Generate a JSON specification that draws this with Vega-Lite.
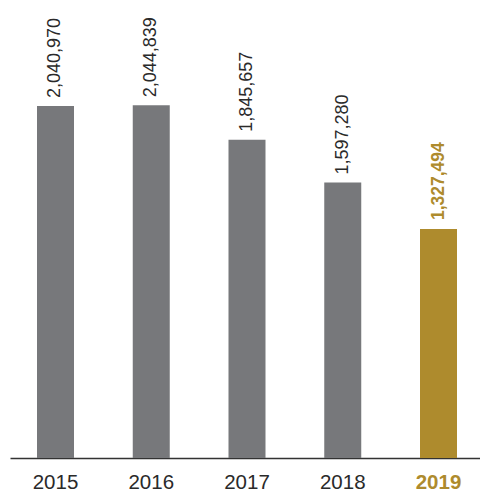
{
  "$schema": "https://vega.github.io/schema/vega-lite/v6.json",
  "autosize": "none",
  "padding": {"left": 10, "top": 0, "right": 0, "bottom": 35},
  "width": 470,
  "height": 458,
  "background": "white",
  "config": {"view": {"stroke": null}, "font": "Liberation Sans"},
  "data": {"values": [
    {"year": "2015", "value": 2040970},
    {"year": "2016", "value": 2044839},
    {"year": "2017", "value": 1845657},
    {"year": "2018", "value": 1597280},
    {"year": "2019", "value": 1327494}
  ]},
  "encoding": {
    "x": {
      "field": "year", "type": "nominal", "title": null,
      "scale": {"paddingInner": 0.6136, "paddingOuter": 0.2611, "align": 0.54},
      "axis": {
        "labelAngle": 0, "ticks": false, "tickSize": 0, "labelPadding": 14,
        "labelFontSize": 20.5, "labelFont": "Liberation Sans",
        "domainColor": "#333333", "domainWidth": 1.5,
        "labelColor": {"condition": {"test": "datum.value === '2019'", "value": "#ae8b2d"}, "value": "#2a2a2a"},
        "labelFontWeight": {"condition": {"test": "datum.value === '2019'", "value": "bold"}, "value": "normal"}
      }
    },
    "y": {
      "field": "value", "type": "quantitative",
      "scale": {"domain": [0, 2655800]},
      "axis": null
    }
  },
  "layer": [
    {
      "mark": {"type": "bar"},
      "encoding": {
        "color": {"condition": {"test": "datum.year === '2019'", "value": "#ae8b2d"}, "value": "#77787b"}
      }
    },
    {
      "transform": [{"filter": "datum.year !== '2019'"}],
      "mark": {"type": "text", "angle": -90, "align": "left", "baseline": "middle", "dx": 8, "fontSize": 18, "font": "Liberation Sans", "color": "#2a2a2a"},
      "encoding": {
        "text": {"field": "value", "type": "quantitative", "format": ","}
      }
    },
    {
      "transform": [{"filter": "datum.year === '2019'"}],
      "mark": {"type": "text", "angle": -90, "align": "left", "baseline": "middle", "dx": 9, "fontSize": 17.5, "fontWeight": "bold", "font": "Liberation Sans", "color": "#ae8b2d"},
      "encoding": {
        "text": {"field": "value", "type": "quantitative", "format": ","}
      }
    }
  ]
}
